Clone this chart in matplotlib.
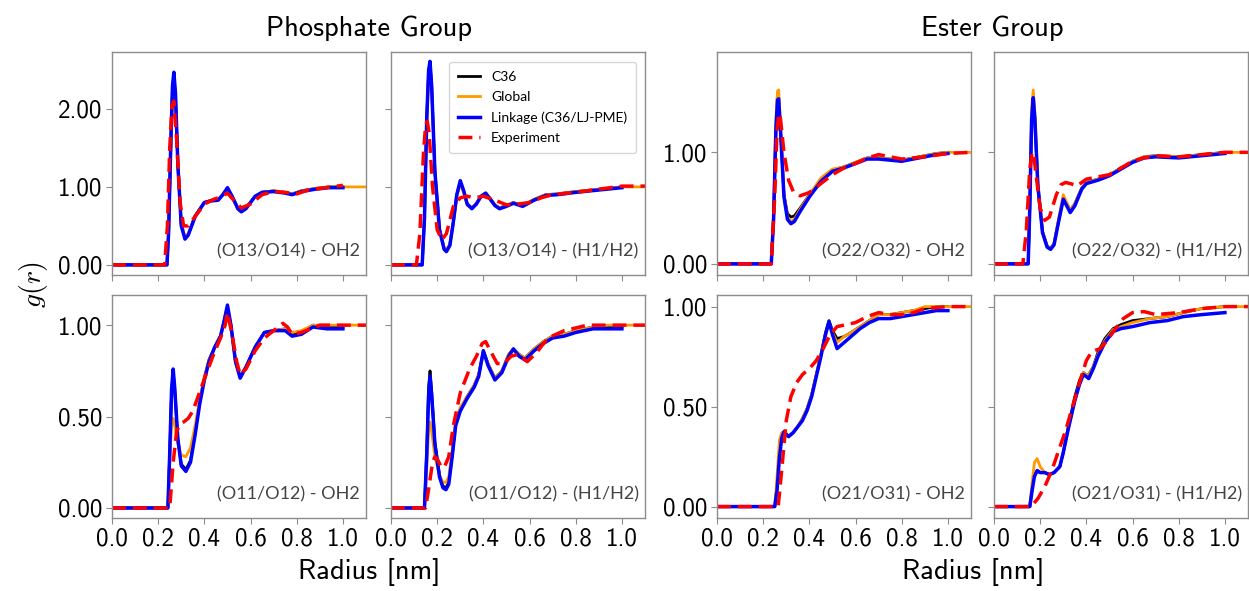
import matplotlib
matplotlib.use("Agg")
import matplotlib.pyplot as plt

plt.rcParams['mathtext.fontset'] = 'cm'

# ---------------- data ----------------
series_names = ["C36", "Global", "Linkage (C36/LJ-PME)", "Experiment"]
group_titles = ["Phosphate Group", "Ester Group"]
panel_labels = ["(O13/O14) - OH2", "(O13/O14) - (H1/H2)", "(O22/O32) - OH2", "(O22/O32) - (H1/H2)",
                "(O11/O12) - OH2", "(O11/O12) - (H1/H2)", "(O21/O31) - OH2", "(O21/O31) - (H1/H2)"]
x_ticks = [0.0, 0.2, 0.4, 0.6, 0.8, 1.0]
x_ticklabels = ["0.0", "0.2", "0.4", "0.6", "0.8", "1.0"]
glob_end_r = 1.1

# Panel 1: (O13/O14) - OH2
p1_r = [0.0, 0.238, 0.245, 0.255, 0.262, 0.268, 0.275, 0.285, 0.30, 0.316, 0.33, 0.36, 0.40, 0.43, 0.46, 0.48,
        0.50, 0.52, 0.545, 0.56, 0.58, 0.62, 0.65, 0.70, 0.75, 0.78, 0.82, 0.88, 0.94, 1.0]
p1_link = [0, 0, 0.4, 1.6, 2.3, 2.47, 2.2, 1.3, 0.5, 0.33, 0.38, 0.62, 0.80, 0.82, 0.83, 0.90,
           0.99, 0.88, 0.72, 0.68, 0.72, 0.88, 0.93, 0.94, 0.92, 0.90, 0.94, 0.97, 0.99, 0.99]
p1_c36 = [0, 0, 0.4, 1.55, 2.25, 2.42, 2.15, 1.3, 0.52, 0.35, 0.39, 0.63, 0.80, 0.83, 0.84, 0.90,
          0.98, 0.88, 0.73, 0.69, 0.73, 0.88, 0.93, 0.95, 0.93, 0.91, 0.95, 0.98, 1.0, 1.0]
p1_glob = [0, 0, 0.4, 1.55, 2.22, 2.4, 2.12, 1.3, 0.53, 0.36, 0.40, 0.63, 0.80, 0.83, 0.84, 0.90,
           0.98, 0.88, 0.73, 0.69, 0.73, 0.88, 0.93, 0.95, 0.93, 0.91, 0.95, 0.98, 1.0, 1.0, 1.0]
p1_rexp = [0.0, 0.228, 0.24, 0.25, 0.26, 0.268, 0.28, 0.295, 0.31, 0.33, 0.36, 0.40, 0.44, 0.47, 0.50, 0.53,
           0.56, 0.60, 0.65, 0.70, 0.75, 0.80, 0.85, 0.90, 0.95, 1.0]
p1_exp = [0, 0, 0.5, 1.5, 2.05, 2.1, 1.6, 0.8, 0.5, 0.5, 0.62, 0.78, 0.84, 0.87, 0.92, 0.82,
          0.73, 0.78, 0.90, 0.94, 0.93, 0.91, 0.96, 0.98, 1.0, 1.02]

# Panel 2: (O13/O14) - (H1/H2)
p2_r = [0.0, 0.135, 0.145, 0.155, 0.163, 0.169, 0.176, 0.19, 0.21, 0.23, 0.24, 0.255, 0.27, 0.285, 0.30, 0.315,
        0.33, 0.35, 0.37, 0.39, 0.41, 0.43, 0.45, 0.47, 0.50, 0.53, 0.57, 0.62, 0.67, 0.72, 0.80, 0.90, 1.0]
p2_link = [0, 0, 0.6, 1.9, 2.5, 2.61, 2.3, 1.2, 0.45, 0.2, 0.17, 0.25, 0.55, 0.9, 1.08, 0.95,
           0.78, 0.72, 0.78, 0.88, 0.92, 0.84, 0.76, 0.72, 0.75, 0.79, 0.75, 0.83, 0.89, 0.90, 0.93, 0.96, 0.99]
p2_c36 = [0, 0, 0.6, 1.9, 2.48, 2.58, 2.3, 1.2, 0.46, 0.21, 0.18, 0.26, 0.55, 0.9, 1.06, 0.94,
          0.78, 0.73, 0.79, 0.88, 0.92, 0.85, 0.77, 0.73, 0.76, 0.80, 0.76, 0.84, 0.90, 0.91, 0.94, 0.97, 1.0]
p2_glob = [0, 0, 0.6, 1.85, 2.45, 2.55, 2.28, 1.2, 0.47, 0.22, 0.19, 0.27, 0.55, 0.88, 1.03, 0.92,
           0.76, 0.73, 0.79, 0.88, 0.92, 0.85, 0.77, 0.73, 0.76, 0.80, 0.76, 0.84, 0.90, 0.91, 0.94, 0.97, 1.0, 1.0]
p2_rexp = [0.0, 0.11, 0.125, 0.14, 0.15, 0.157, 0.165, 0.18, 0.20, 0.22, 0.24, 0.27, 0.30, 0.33, 0.36,
           0.40, 0.45, 0.50, 0.55, 0.60, 0.65, 0.70, 0.80, 0.90, 1.0, 1.1]
p2_exp = [0, 0, 0.4, 1.4, 1.8, 1.84, 1.7, 1.0, 0.45, 0.32, 0.4, 0.75, 0.86, 0.88, 0.86,
          0.88, 0.83, 0.77, 0.78, 0.80, 0.86, 0.90, 0.93, 0.97, 1.01, 1.01]

# Panel 3: (O22/O32) - OH2
p3_r = [0.0, 0.235, 0.245, 0.255, 0.262, 0.267, 0.275, 0.29, 0.305, 0.32, 0.335, 0.36, 0.40, 0.45, 0.50,
        0.55, 0.60, 0.65, 0.70, 0.75, 0.80, 0.85, 0.90, 0.95, 1.0]
p3_link = [0, 0, 0.4, 1.2, 1.47, 1.48, 1.2, 0.6, 0.40, 0.36, 0.38, 0.47, 0.60, 0.74, 0.83,
           0.86, 0.90, 0.94, 0.94, 0.93, 0.92, 0.94, 0.96, 0.98, 0.99]
p3_c36 = [0, 0, 0.4, 1.2, 1.44, 1.45, 1.2, 0.62, 0.45, 0.42, 0.43, 0.50, 0.62, 0.75, 0.84,
          0.87, 0.91, 0.95, 0.95, 0.94, 0.93, 0.95, 0.97, 0.99, 1.0]
p3_glob = [0, 0, 0.45, 1.3, 1.55, 1.56, 1.25, 0.62, 0.42, 0.38, 0.40, 0.49, 0.62, 0.77, 0.85,
           0.87, 0.91, 0.95, 0.95, 0.94, 0.93, 0.95, 0.97, 0.99, 1.0, 1.0]
p3_rexp = [0.0, 0.235, 0.25, 0.26, 0.268, 0.275, 0.29, 0.31, 0.33, 0.36, 0.40, 0.45, 0.50, 0.55, 0.60,
           0.65, 0.70, 0.75, 0.80, 0.90, 1.0, 1.1]
p3_exp = [0, 0, 0.6, 1.2, 1.35, 1.3, 1.0, 0.75, 0.65, 0.61, 0.64, 0.72, 0.80, 0.86, 0.90,
          0.95, 0.98, 0.96, 0.94, 0.96, 0.99, 1.0]

# Panel 4: (O22/O32) - (H1/H2)
p4_r = [0.0, 0.148, 0.155, 0.163, 0.17, 0.177, 0.19, 0.21, 0.23, 0.245, 0.26, 0.28, 0.30, 0.315, 0.33,
        0.35, 0.38, 0.40, 0.45, 0.50, 0.55, 0.60, 0.65, 0.70, 0.80, 0.90, 1.0]
p4_link = [0, 0, 0.5, 1.3, 1.49, 1.3, 0.7, 0.28, 0.15, 0.13, 0.17, 0.38, 0.58, 0.52, 0.46,
           0.52, 0.67, 0.72, 0.75, 0.79, 0.85, 0.91, 0.95, 0.96, 0.95, 0.97, 0.99]
p4_c36 = [0, 0, 0.5, 1.3, 1.47, 1.3, 0.7, 0.29, 0.16, 0.14, 0.18, 0.39, 0.59, 0.54, 0.48,
          0.54, 0.68, 0.73, 0.76, 0.80, 0.86, 0.92, 0.96, 0.97, 0.96, 0.98, 1.0]
p4_glob = [0, 0, 0.55, 1.4, 1.56, 1.35, 0.72, 0.29, 0.16, 0.14, 0.18, 0.41, 0.62, 0.55, 0.48,
           0.54, 0.68, 0.73, 0.76, 0.80, 0.86, 0.92, 0.96, 0.97, 0.96, 0.98, 1.0, 1.0]
p4_rexp = [0.0, 0.125, 0.14, 0.155, 0.165, 0.172, 0.185, 0.20, 0.22, 0.24, 0.27, 0.29, 0.31, 0.33, 0.36,
           0.40, 0.45, 0.50, 0.55, 0.60, 0.65, 0.70, 0.80, 0.90, 1.0, 1.1]
p4_exp = [0, 0, 0.3, 0.85, 1.0, 0.98, 0.75, 0.5, 0.39, 0.42, 0.62, 0.71, 0.73, 0.72, 0.70,
          0.76, 0.78, 0.80, 0.86, 0.92, 0.95, 0.97, 0.96, 0.98, 1.0, 1.0]

# Panel 5: (O11/O12) - OH2
p5_r = [0.0, 0.242, 0.25, 0.258, 0.265, 0.272, 0.285, 0.30, 0.32, 0.34, 0.36, 0.38, 0.40, 0.42, 0.445,
        0.47, 0.485, 0.50, 0.515, 0.535, 0.555, 0.58, 0.62, 0.66, 0.70, 0.75, 0.78, 0.82, 0.87, 0.93, 1.0]
p5_link = [0, 0, 0.3, 0.65, 0.76, 0.65, 0.38, 0.23, 0.20, 0.25, 0.40, 0.57, 0.70, 0.80, 0.88,
           0.94, 1.02, 1.11, 1.0, 0.80, 0.71, 0.77, 0.88, 0.96, 0.97, 0.97, 0.94, 0.95, 0.99, 0.98, 0.98]
p5_c36 = [0, 0, 0.3, 0.64, 0.74, 0.64, 0.38, 0.24, 0.21, 0.26, 0.41, 0.58, 0.71, 0.81, 0.88,
          0.94, 1.02, 1.10, 1.0, 0.80, 0.72, 0.77, 0.88, 0.96, 0.97, 0.98, 0.95, 0.96, 1.0, 0.99, 0.99]
p5_glob = [0, 0, 0.25, 0.45, 0.49, 0.45, 0.35, 0.29, 0.28, 0.33, 0.45, 0.60, 0.72, 0.81, 0.88,
           0.94, 1.01, 1.08, 0.98, 0.80, 0.72, 0.77, 0.88, 0.96, 0.97, 0.98, 0.96, 0.97, 1.0, 1.0, 1.0, 1.0]
p5_rexp = [0.0, 0.25, 0.265, 0.28, 0.295, 0.31, 0.33, 0.35, 0.37, 0.39, 0.41, 0.44, 0.47, 0.49, 0.50,
           0.52, 0.54, 0.555, 0.58, 0.62, 0.66, 0.70, 0.74, 0.76, 0.78, 0.82, 0.90, 1.0, 1.1]
p5_exp = [0, 0, 0.25, 0.42, 0.46, 0.47, 0.49, 0.53, 0.60, 0.67, 0.74, 0.84, 0.93, 1.0, 1.07,
          0.95, 0.80, 0.73, 0.76, 0.86, 0.93, 0.97, 1.01, 0.99, 0.95, 0.96, 1.0, 1.0, 1.0]

# Panel 6: (O11/O12) - (H1/H2)
p6_r = [0.0, 0.145, 0.155, 0.163, 0.169, 0.176, 0.19, 0.21, 0.225, 0.238, 0.25, 0.265, 0.28, 0.30, 0.33,
        0.36, 0.38, 0.40, 0.42, 0.45, 0.48, 0.51, 0.53, 0.555, 0.58, 0.62, 0.66, 0.70, 0.75, 0.80, 0.875,
        0.94, 1.0]
p6_link = [0, 0, 0.3, 0.62, 0.72, 0.62, 0.35, 0.17, 0.11, 0.10, 0.13, 0.28, 0.45, 0.53, 0.60,
           0.66, 0.72, 0.86, 0.78, 0.70, 0.74, 0.83, 0.87, 0.83, 0.81, 0.86, 0.90, 0.93, 0.94, 0.96, 0.98,
           0.98, 0.98]
p6_c36 = [0, 0, 0.32, 0.66, 0.75, 0.64, 0.36, 0.18, 0.12, 0.11, 0.14, 0.29, 0.46, 0.54, 0.61,
          0.67, 0.73, 0.86, 0.79, 0.71, 0.75, 0.84, 0.87, 0.84, 0.82, 0.87, 0.91, 0.94, 0.95, 0.97, 0.99,
          0.99, 0.99]
p6_glob = [0, 0, 0.22, 0.42, 0.47, 0.42, 0.28, 0.18, 0.14, 0.14, 0.17, 0.32, 0.48, 0.55, 0.61,
           0.67, 0.73, 0.85, 0.79, 0.71, 0.75, 0.84, 0.87, 0.84, 0.82, 0.87, 0.91, 0.94, 0.95, 0.97, 0.99,
           1.0, 1.0, 1.0]
p6_rexp = [0.0, 0.15, 0.165, 0.18, 0.19, 0.20, 0.215, 0.23, 0.25, 0.27, 0.30, 0.34, 0.37, 0.395, 0.41,
           0.43, 0.46, 0.49, 0.52, 0.55, 0.59, 0.63, 0.68, 0.75, 0.85, 0.95, 1.1]
p6_exp = [0, 0, 0.12, 0.25, 0.28, 0.27, 0.23, 0.22, 0.28, 0.45, 0.63, 0.76, 0.83, 0.90, 0.91,
          0.86, 0.79, 0.79, 0.83, 0.84, 0.80, 0.85, 0.93, 0.97, 1.0, 1.0, 1.0]

# Panel 7: (O21/O31) - OH2
p7_r = [0.0, 0.25, 0.26, 0.27, 0.28, 0.29, 0.31, 0.33, 0.35, 0.37, 0.39, 0.41, 0.43, 0.45, 0.47,
        0.485, 0.50, 0.52, 0.55, 0.58, 0.62, 0.66, 0.70, 0.75, 0.80, 0.85, 0.90, 0.95, 1.0]
p7_link = [0, 0, 0.08, 0.24, 0.34, 0.375, 0.35, 0.37, 0.40, 0.43, 0.48, 0.55, 0.65, 0.75, 0.86,
           0.925, 0.86, 0.79, 0.82, 0.85, 0.89, 0.92, 0.94, 0.94, 0.95, 0.96, 0.97, 0.98, 0.98]
p7_c36 = [0, 0, 0.1, 0.28, 0.36, 0.37, 0.35, 0.37, 0.40, 0.44, 0.49, 0.56, 0.66, 0.76, 0.87,
          0.93, 0.88, 0.84, 0.85, 0.87, 0.90, 0.93, 0.96, 0.96, 0.97, 0.98, 0.99, 1.0, 1.0]
p7_glob = [0, 0, 0.15, 0.33, 0.37, 0.36, 0.35, 0.37, 0.40, 0.44, 0.49, 0.56, 0.66, 0.76, 0.86,
           0.92, 0.87, 0.82, 0.85, 0.87, 0.90, 0.93, 0.96, 0.96, 0.97, 0.98, 1.0, 1.0, 1.0, 1.0]
p7_rexp = [0.0, 0.265, 0.28, 0.30, 0.32, 0.345, 0.37, 0.40, 0.43, 0.46, 0.49, 0.52, 0.56, 0.60, 0.65,
           0.70, 0.75, 0.80, 0.85, 0.90, 1.0, 1.1]
p7_exp = [0, 0, 0.18, 0.43, 0.55, 0.62, 0.66, 0.69, 0.73, 0.79, 0.86, 0.90, 0.91, 0.92, 0.95,
          0.97, 0.96, 0.96, 0.97, 0.99, 1.0, 1.0]

# Panel 8: (O21/O31) - (H1/H2)
p8_r = [0.0, 0.155, 0.165, 0.175, 0.187, 0.20, 0.22, 0.24, 0.26, 0.285, 0.30, 0.32, 0.35, 0.37, 0.387,
        0.40, 0.41, 0.43, 0.45, 0.48, 0.516, 0.55, 0.60, 0.675, 0.75, 0.82, 0.90, 1.0]
p8_link = [0, 0, 0.08, 0.15, 0.18, 0.17, 0.17, 0.16, 0.17, 0.20, 0.27, 0.38, 0.53, 0.61, 0.66,
           0.65, 0.64, 0.69, 0.75, 0.82, 0.875, 0.89, 0.90, 0.92, 0.93, 0.95, 0.96, 0.97]
p8_c36 = [0, 0, 0.09, 0.16, 0.18, 0.17, 0.17, 0.16, 0.17, 0.20, 0.27, 0.39, 0.55, 0.63, 0.67,
          0.66, 0.66, 0.70, 0.77, 0.84, 0.89, 0.91, 0.93, 0.94, 0.95, 0.97, 0.99, 1.0]
p8_glob = [0, 0, 0.12, 0.22, 0.24, 0.20, 0.17, 0.16, 0.17, 0.20, 0.27, 0.38, 0.53, 0.62, 0.67,
           0.66, 0.66, 0.70, 0.76, 0.83, 0.885, 0.90, 0.92, 0.94, 0.95, 0.97, 0.99, 1.0, 1.0]
p8_rexp = [0.0, 0.16, 0.19, 0.22, 0.25, 0.28, 0.31, 0.34, 0.37, 0.40, 0.423, 0.46, 0.49, 0.52, 0.56,
           0.60, 0.65, 0.70, 0.80, 0.90, 1.0, 1.1]
p8_exp = [0, 0, 0.04, 0.10, 0.18, 0.28, 0.38, 0.50, 0.62, 0.73, 0.775, 0.79, 0.83, 0.88, 0.94,
          0.97, 0.975, 0.96, 0.97, 0.99, 1.0, 1.0]

panels = [
    (p1_r, p1_c36, p1_glob, p1_link, p1_rexp, p1_exp),
    (p2_r, p2_c36, p2_glob, p2_link, p2_rexp, p2_exp),
    (p3_r, p3_c36, p3_glob, p3_link, p3_rexp, p3_exp),
    (p4_r, p4_c36, p4_glob, p4_link, p4_rexp, p4_exp),
    (p5_r, p5_c36, p5_glob, p5_link, p5_rexp, p5_exp),
    (p6_r, p6_c36, p6_glob, p6_link, p6_rexp, p6_exp),
    (p7_r, p7_c36, p7_glob, p7_link, p7_rexp, p7_exp),
    (p8_r, p8_c36, p8_glob, p8_link, p8_rexp, p8_exp),
]

yticks_rows = {
    (0, 0): ([0.0, 1.0, 2.0], ["0.00", "1.00", "2.00"], (-0.13, 2.73)),
    (0, 1): ([0.0, 1.0], ["0.00", "1.00"], (-0.10, 1.90)),
    (1, 0): ([0.0, 0.5, 1.0], ["0.00", "0.50", "1.00"], (-0.055, 1.165)),
    (1, 1): ([0.0, 0.5, 1.0], ["0.00", "0.50", "1.00"], (-0.057, 1.058)),
}

# ---------------- figure ----------------
W, H = 1249, 591
fig = plt.figure(figsize=(W / 100, H / 100), dpi=100)

col_left = [112, 391, 717, 994]
ax_w = 254
row_top = [52, 295]
ax_h = 223

tick_font = 'cmss10'
label_col = '#444444'
spine_col = '#8c8c8c'

colors = ['black', '#ff9900', '#0000ff', '#ff0000']

axes = []
for i, data in enumerate(panels):
    row = i // 4
    col = i % 4
    group = col // 2
    left = col_left[col]
    top = row_top[row]
    ax = fig.add_axes([left / W, 1 - (top + ax_h) / H, ax_w / W, ax_h / H])
    axes.append(ax)
    r, c36, glob, link, rexp, gexp = data
    ax.plot(r, c36, color=colors[0], lw=2.0, label=series_names[0])
    ax.plot(list(r) + [glob_end_r], glob, color=colors[1], lw=2.0, label=series_names[1])
    ax.plot(r, link, color=colors[2], lw=2.5, label=series_names[2])
    ax.plot(rexp, gexp, color=colors[3], lw=2.5, ls=(0, (4, 2)), label=series_names[3])

    ax.set_xlim(0, 1.1)
    yt, ytl, ylim = yticks_rows[(row, group)]
    ax.set_ylim(*ylim)
    ax.set_xticks(x_ticks)
    ax.set_yticks(yt)
    if row == 1:
        ax.set_xticklabels(x_ticklabels, fontfamily=tick_font, fontsize=18)
    else:
        ax.set_xticklabels([])
    if col % 2 == 0:
        ax.set_yticklabels(ytl, fontfamily=tick_font, fontsize=18)
    else:
        ax.set_yticklabels([])
    ax.tick_params(axis='both', direction='out', length=4, width=0.8, color=spine_col, pad=3)
    for s in ax.spines.values():
        s.set_color(spine_col)
        s.set_linewidth(1.0)
    ax.text(0.975, 0.07, panel_labels[i], transform=ax.transAxes, ha='right', va='bottom',
            fontsize=13, family='Lato', color=label_col)

leg = axes[1].legend(loc='upper right', prop={'family': 'Lato', 'size': 10},
                     handlelength=1.6, frameon=True, borderpad=0.6, labelspacing=0.6,
                     bbox_to_anchor=(0.99, 0.985))
leg.get_frame().set_edgecolor('#cccccc')

# titles and labels
fig.text(369 / W, 1 - 28 / H, group_titles[0], ha='center', va='center', fontsize=20.5, family=tick_font)
fig.text(992 / W, 1 - 28 / H, group_titles[1], ha='center', va='center', fontsize=20.5, family=tick_font)
fig.text(369 / W, 1 - 572 / H, "Radius [nm]", ha='center', va='center', fontsize=20.5, family=tick_font)
fig.text(973 / W, 1 - 572 / H, "Radius [nm]", ha='center', va='center', fontsize=20.5, family=tick_font)
fig.text(33 / W, 1 - 285 / H, "$g(r)$", ha='center', va='center', fontsize=20, rotation=90)

fig.savefig("out.png", dpi=100)
